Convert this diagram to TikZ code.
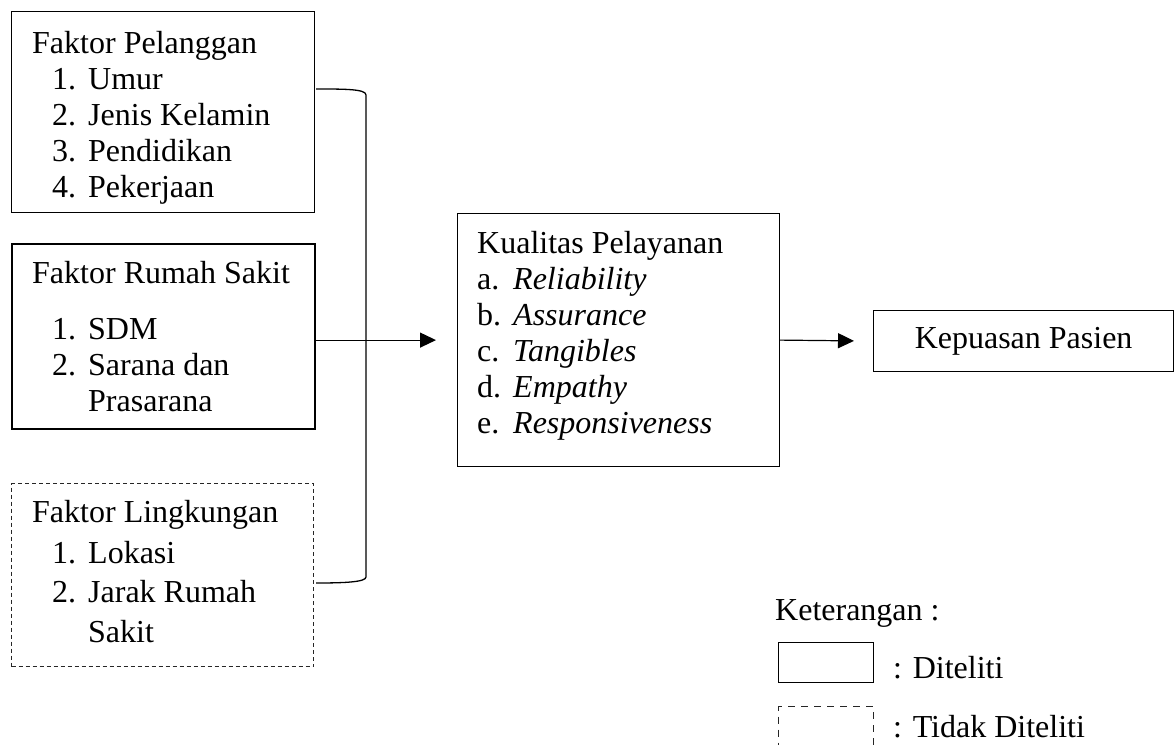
\documentclass[tikz,border=0pt]{standalone}
\usepackage{fontspec}
\setmainfont{Liberation Serif}
\usetikzlibrary{positioning,arrows.meta,calc}

\newcommand{\numitem}[2]{\hspace*{20pt}\makebox[36pt][l]{#1}#2}
\newcommand{\letitem}[2]{\makebox[36pt][l]{#1}#2}

\begin{document}
\begin{tikzpicture}[x=1pt,y=-1pt,
  box/.style={draw,line width=1.2pt,rectangle,inner sep=0pt,anchor=north west,font=\fontsize{32}{36}\selectfont},
  thickbox/.style={box,line width=2.4pt},
  dashbox/.style={box,draw=black!85,dash pattern=on 4pt off 3pt},
  txt/.style={anchor=base west,inner sep=0pt,font=\fontsize{32}{36}\selectfont},
  arr/.style={line width=1.2pt,-{Triangle[length=16pt,width=15pt]}}]
\useasboundingbox (0,0) rectangle (1174,744);

% Factor boxes on the left
\node[box,minimum width=303,minimum height=201] (pelanggan) at (11,11) {};
\node[txt] (pelangganTxt) at (32,53) {\begin{tabular}[t]{@{}l@{}}
  Faktor Pelanggan\\
  \numitem{1.}{Umur}\\
  \numitem{2.}{Jenis Kelamin}\\
  \numitem{3.}{Pendidikan}\\
  \numitem{4.}{Pekerjaan}
\end{tabular}};

\node[thickbox,minimum width=303,minimum height=185] (rumahsakit) at (11,243) {};
\node[txt] (rumahsakitTxt) at (32,283) {\begin{tabular}[t]{@{}l@{}}
  Faktor Rumah Sakit\\[20pt]
  \numitem{1.}{SDM}\\
  \numitem{2.}{Sarana dan}\\
  \hspace*{56pt}Prasarana
\end{tabular}};

\node[dashbox,minimum width=302,minimum height=183] (lingkungan) at (11,483) {};
\node[txt] (lingkunganTxt) at (32,522) {\begin{tabular}[t]{@{}l@{}}
  Faktor Lingkungan\\[5pt]
  \numitem{1.}{Lokasi}\\[3pt]
  \numitem{2.}{Jarak Rumah}\\[4pt]
  \hspace*{56pt}Sakit
\end{tabular}};

% Bracket joining the three factors
\coordinate (brTop) at (316,89);
\coordinate (brBot) at (316,583);
\draw[line width=1.3pt] (brTop) .. controls (345,89) and (366,89) .. (366,95)
  -- (366,577) .. controls (366,582) and (345,583) .. (brBot);

% Service quality and satisfaction
\node[box,minimum width=322,minimum height=253] (kualitas) at (457,213) {};
\node[txt] (kualitasTxt) at (477,253) {\begin{tabular}[t]{@{}l@{}}
  Kualitas Pelayanan\\
  \letitem{a.}{\textit{Reliability}}\\
  \letitem{b.}{\textit{Assurance}}\\
  \letitem{c.}{\textit{Tangibles}}\\
  \letitem{d.}{\textit{Empathy}}\\
  \letitem{e.}{\textit{Responsiveness}}
\end{tabular}};

\node[box,minimum width=300,minimum height=61] (kepuasan) at (873,310) {Kepuasan Pasien};

\draw[arr,shorten >=21pt] (rumahsakit.east |- kualitas.west) -- (kualitas.west);
\draw[arr,shorten >=19pt] (kualitas.east) -- (kepuasan.west);

% Legend
\node[txt] (keterangan) at (775,620) {Keterangan :};
\node[box,minimum width=95,minimum height=40] (legSolid) at (778,642) {};
\node[txt] (legSolidTxt) at (893,678) {: Diteliti};
\node[box,draw=black!85,dash pattern=on 7pt off 6pt,minimum width=95,minimum height=60] (legDash) at (778,706) {};
\node[txt] (legDashTxt) at (893,737) {: Tidak Diteliti};
\end{tikzpicture}
\end{document}
